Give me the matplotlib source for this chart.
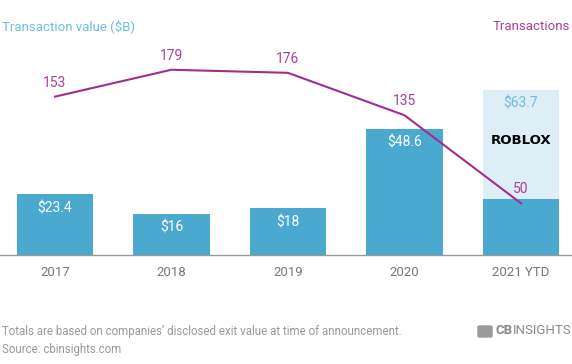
import matplotlib.pyplot as plt
import matplotlib.patches as mpatches
import numpy as np

plt.rcParams['font.family'] = ['Roboto', 'DejaVu Sans']

# data
years = ['2017', '2018', '2019', '2020', '2021 YTD']
value_b = [23.4, 16, 18, 48.6, 21.7]        # dark bars ($B)
roblox_b = [0, 0, 0, 0, 42.0]               # light stacked part (Roblox)
total_labels = ['$23.4', '$16', '$18', '$48.6', '$63.7']
deals = [153, 179, 176, 135, 50]

bar_col = '#4BA9CF'
light_col = '#DDEEF6'
line_col = '#A12D90'
label_purple = '#A8409A'
title_blue = '#6CBFE0'
gray = '#777777'

fig = plt.figure(figsize=(5.72, 3.64), dpi=100)
ax = fig.add_axes([0, (364 - 255) / 364, 1, 225 / 364])
x = np.arange(len(years))

ax.bar(x, value_b, width=0.66, color=bar_col, zorder=2)
ax.bar(x, roblox_b, width=0.66, bottom=value_b, color=light_col, zorder=1)
ax.set_xlim(-55 / 116.5, (572 - 55) / 116.5)
ax.set_ylim(0, 225 / 2.593)

for i in range(len(years)):
    tot = value_b[i] + roblox_b[i]
    c = title_blue if roblox_b[i] > 0 else 'white'
    ax.annotate(total_labels[i], (x[i], tot), xytext=(0, -10), textcoords='offset points',
                ha='center', va='center', color=c, fontsize=10, zorder=5)

ax.text(x[4], 44, 'ROBLOX', ha='center', va='center', fontsize=9.5,
        fontweight='heavy', family='DejaVu Sans', color='black', zorder=5)

for s in ['top', 'right', 'left']:
    ax.spines[s].set_visible(False)
ax.spines['bottom'].set_color('#999999')
ax.spines['bottom'].set_linewidth(1)
ax.set_yticks([])
ax.set_xticks(x)
ax.set_xticklabels(years, color=gray, fontsize=9.5)
ax.tick_params(axis='x', length=0, pad=8)

ax2 = ax.twinx()
ax2.plot(x, deals, color=line_col, linewidth=1.5, zorder=4)
ax2.set_ylim(0, 225 / 1.035)
ax2.set_yticks([])
for s in ['top', 'right', 'left', 'bottom']:
    ax2.spines[s].set_visible(False)
for i in range(len(years)):
    ax2.annotate(str(deals[i]), (x[i], deals[i]), xytext=(0, 10), textcoords='offset points',
                 ha='center', va='center', color=label_purple, fontsize=10)

fig.text(2 / 572, 1 - 26 / 364, 'Transaction value ($B)', ha='left', va='center',
         color=title_blue, fontsize=9.5)
fig.text(570 / 572, 1 - 26 / 364, 'Transactions', ha='right', va='center',
         color=label_purple, fontsize=9.5)

fig.text(2 / 572, 1 - 332 / 364, 'Totals are based on companies\u2019 disclosed exit value at time of announcement.',
         ha='left', va='center', color='#999999', fontsize=8.3)
fig.text(2 / 572, 1 - 349 / 364, 'Source: cbinsights.com', ha='left', va='center',
         color='#999999', fontsize=8.3)

# logo
fig.patches.append(mpatches.FancyBboxPatch((478 / 572, 1 - 337 / 364), 14 / 572, 11 / 364,
                   boxstyle='round,pad=0,rounding_size=0.003', transform=fig.transFigure,
                   color='#9a9a9a'))
fig.text(495 / 572, 1 - 331 / 364, 'CB', ha='left', va='center', color='#8a8a8a',
         fontsize=9.5, fontweight='bold')
fig.text(513 / 572, 1 - 331 / 364, 'INSIGHTS', ha='left', va='center', color='#8a8a8a',
         fontsize=9.5)

fig.savefig('out.png', dpi=100)
